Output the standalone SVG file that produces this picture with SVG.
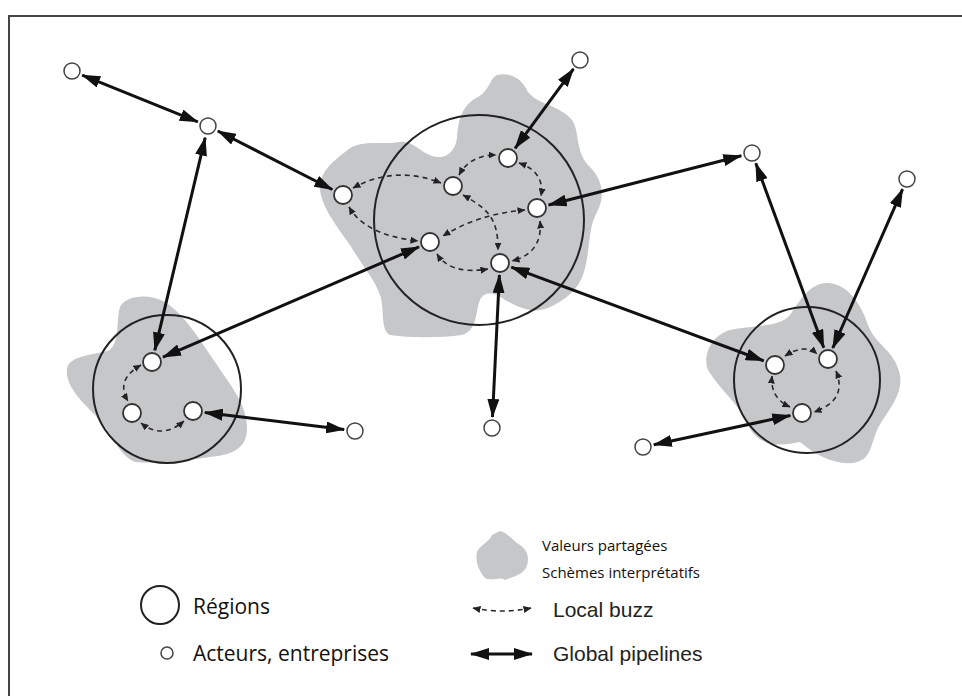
<svg xmlns="http://www.w3.org/2000/svg" width="962" height="696" viewBox="0 0 962 696">
<style>
.blob{fill:#c6c7c9;stroke:none}
.region{fill:none;stroke:#222;stroke-width:2}
.node{fill:#fff;stroke:#333;stroke-width:1.8}
.onode{fill:#fff;stroke:#444;stroke-width:1.5}
.pipe{fill:none;stroke:#111;stroke-width:3;marker-start:url(#bigHead);marker-end:url(#bigHead)}
.buzz{fill:none;stroke:#2a2a2a;stroke-width:1.6;stroke-dasharray:5 4;marker-start:url(#smallHead);marker-end:url(#smallHead)}
.lab1{font-family:"Open Sans","Noto Sans","DejaVu Sans",sans-serif;fill:#111}
.lab2{font-family:"Liberation Sans",Arial,sans-serif;fill:#222}
</style>
<defs>
<marker id="bigHead" viewBox="0 0 19 12" refX="18" refY="6" markerWidth="19" markerHeight="12" markerUnits="userSpaceOnUse" orient="auto-start-reverse">
<path d="M0,0 L19,6 L0,12 z" fill="#111"/>
</marker>
<marker id="smallHead" viewBox="0 0 8 7" refX="7.5" refY="3.5" markerWidth="8" markerHeight="7" markerUnits="userSpaceOnUse" orient="auto-start-reverse">
<path d="M0,0 L8,3.5 L0,7 z" fill="#222"/>
</marker>
</defs>
<rect x="0" y="0" width="962" height="696" fill="#fff"/>
<g id="frame">
<path d="M9,696 L9,16 L962,16" fill="none" stroke="#444" stroke-width="2"/>
</g>
<g id="blobs">
<path class="blob" d="M497,75 C510,72 522,78 528,92 C538,105 560,105 572,120 C580,132 575,150 588,165 C602,178 606,195 597,212 C588,228 590,250 585,268 C580,290 565,300 548,308 C530,315 515,305 505,300 C495,293 485,290 480,300 C475,312 478,330 462,335 C440,338 410,338 390,335 C380,330 385,310 380,295 C375,280 360,262 350,245 C338,228 320,205 320,188 C320,170 335,160 350,148 C365,140 385,145 400,142 C412,140 420,152 432,156 C446,160 455,152 457,138 C458,120 462,105 478,97 C490,90 490,78 497,75 Z"/>
<path class="blob" d="M120,307 C125,295 150,293 165,302 C185,315 200,340 215,362 C230,385 248,405 247,430 C246,450 230,455 210,457 C190,460 160,464 135,462 C118,455 112,432 95,415 C80,400 65,385 67,368 C70,355 95,355 110,350 C120,340 116,320 120,307 Z"/>
<path class="blob" d="M827,283 C845,283 860,300 868,325 C875,345 895,350 900,375 C903,395 888,410 878,428 C870,445 872,460 853,463 C835,465 815,455 800,442 C785,445 760,450 748,425 C740,405 720,390 708,370 C702,355 712,335 730,330 C750,325 780,328 790,315 C800,300 810,283 827,283 Z"/>
</g>
<g id="regions">
<circle id="region-center" class="region" cx="479" cy="220" r="105"/>
<circle id="region-left" class="region" cx="167" cy="389" r="74"/>
<circle id="region-right" class="region" cx="807" cy="380" r="73"/>
</g>
<g id="connectors">
<line class="pipe" x1="82.2" y1="75.1" x2="197.8" y2="121.9"/>
<line class="pipe" x1="217.8" y1="131" x2="332.3" y2="189.5"/>
<line class="pipe" x1="205.2" y1="137.7" x2="154.8" y2="350.3"/>
<line class="pipe" x1="573.5" y1="68.9" x2="515.1" y2="148.3"/>
<line class="pipe" x1="548.6" y1="205" x2="741.3" y2="155.7"/>
<line class="pipe" x1="419" y1="246.8" x2="163" y2="357.2"/>
<line class="pipe" x1="499.4" y1="275" x2="492.5" y2="417"/>
<line class="pipe" x1="511.3" y1="267.2" x2="763.7" y2="360.8"/>
<line class="pipe" x1="755.8" y1="163.3" x2="823.8" y2="347.7"/>
<line class="pipe" x1="902.6" y1="189.1" x2="832.8" y2="348"/>
<line class="pipe" x1="204.9" y1="412.5" x2="344.1" y2="429.6"/>
<line class="pipe" x1="790.3" y1="415.5" x2="653.8" y2="444.7"/>
<path class="buzz" d="M353,188 Q395,165 441,183"/>
<path class="buzz" d="M459,175 Q470,155 496,155"/>
<path class="buzz" d="M519,163 Q545,172 541,196"/>
<path class="buzz" d="M525,210 Q478,214 443,236"/>
<path class="buzz" d="M463,195 C490,210 498,220 498,250"/>
<path class="buzz" d="M349,207 Q365,235 418,241"/>
<path class="buzz" d="M437,254 Q450,275 488,269"/>
<path class="buzz" d="M540,221 Q543,253 512,261"/>
<path class="buzz" d="M141,365 Q115,380 128,401"/>
<path class="buzz" d="M141,423 Q162,440 184,421"/>
<path class="buzz" d="M785,356 Q805,343 817,354"/>
<path class="buzz" d="M772,376 Q770,398 790,407"/>
<path class="buzz" d="M836,371 Q848,400 814,412"/>
</g>
<g id="nodes">
<circle id="n-a" class="onode" cx="72" cy="71" r="8"/>
<circle id="n-b" class="onode" cx="208" cy="126" r="8"/>
<circle id="n-c" class="onode" cx="580" cy="60" r="8"/>
<circle id="n-d" class="onode" cx="752" cy="153" r="8"/>
<circle id="n-e" class="onode" cx="907" cy="179" r="8"/>
<circle id="n-f" class="onode" cx="355" cy="431" r="8"/>
<circle id="n-g" class="onode" cx="492" cy="428" r="8"/>
<circle id="n-h" class="onode" cx="643" cy="447" r="8"/>
<circle id="c1" class="node" cx="508" cy="158" r="9"/>
<circle id="c2" class="node" cx="453" cy="186" r="9"/>
<circle id="c3" class="node" cx="343" cy="195" r="9"/>
<circle id="c4" class="node" cx="537" cy="208" r="9"/>
<circle id="c5" class="node" cx="430" cy="242" r="9"/>
<circle id="c6" class="node" cx="500" cy="263" r="9"/>
<circle id="l1" class="node" cx="152" cy="362" r="9"/>
<circle id="l2" class="node" cx="132" cy="413" r="9"/>
<circle id="l3" class="node" cx="193" cy="411" r="9"/>
<circle id="r1" class="node" cx="775" cy="365" r="9"/>
<circle id="r2" class="node" cx="828" cy="359" r="9"/>
<circle id="r3" class="node" cx="802" cy="413" r="9"/>
</g>
<g id="legend">
<path class="blob" d="M500,531 C508,533 512,540 520,545 C528,550 530,560 526,568 C522,575 512,577 505,580 C500,576 492,582 485,578 C478,570 475,560 477,552 C480,545 490,541 492,535 Z"/>
<text class="lab1" x="542" y="551" font-size="15">Valeurs partagées</text>
<text class="lab1" x="542" y="578" font-size="15">Schèmes interprétatifs</text>
<circle class="region" cx="160" cy="605" r="19"/>
<text class="lab1" x="193" y="614" font-size="21">Régions</text>
<path class="buzz" d="M473,608 Q502,614 531,608"/>
<text class="lab2" x="553" y="617" font-size="21">Local buzz</text>
<circle class="onode" cx="167" cy="653" r="6"/>
<text class="lab1" x="193" y="661" font-size="21">Acteurs, entreprises</text>
<line class="pipe" x1="471" y1="654" x2="532" y2="654"/>
<text class="lab2" x="553" y="661" font-size="21">Global pipelines</text>
</g>
</svg>
